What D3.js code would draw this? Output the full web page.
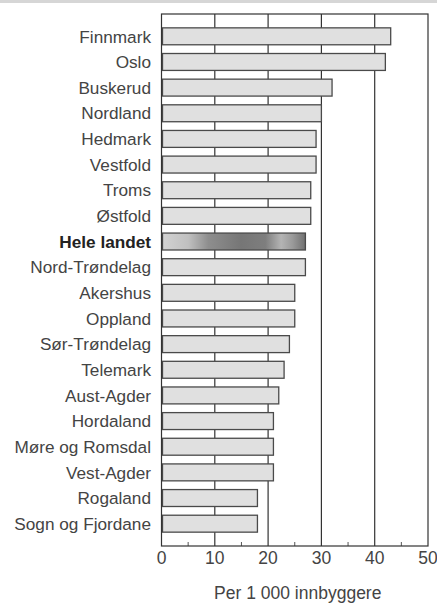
<!DOCTYPE html>
<html>
<head>
<meta charset="utf-8">
<script src="https://cdn.jsdelivr.net/npm/d3@7"></script>
<style>
  body { margin: 0; background: #fff; }
  text { font-family: "Liberation Sans", Arial, sans-serif; }
</style>
</head>
<body>
<div class="chart"></div>
<script>
// Fylker and values (per 1 000 innbyggere)
const counties = [
    "Finnmark", "Oslo", "Buskerud", "Nordland", "Hedmark", "Vestfold",
    "Troms", "Østfold", "Hele landet", "Nord-Trøndelag", "Akershus",
    "Oppland", "Sør-Trøndelag", "Telemark", "Aust-Agder", "Hordaland",
    "Møre og Romsdal", "Vest-Agder", "Rogaland", "Sogn og Fjordane"
]

const values = [43, 42, 32, 30, 29, 29, 28, 28, 27, 27, 25, 25, 24, 23, 22, 21, 21, 21, 18, 18]

const tickVals = [0, 10, 20, 30, 40, 50]
const minorTicks = [5, 15, 25, 35, 45]

const highlight = "Hele landet"

const width = 437
const height = 609

const svg = d3.select('.chart')
    .append('svg')
    .attr('width', width)
    .attr('height', height)

// scan border at the top
svg.append('rect')
    .attr('x', 0).attr('y', 0)
    .attr('width', width).attr('height', 3)
    .attr('fill', '#d6d6d6')

const x = d3.scaleLinear().domain([0, 50]).range([161.5, 428])
const y = d3.scaleBand()
    .domain(counties)
    .range([14, 546])
    .paddingInner(0.34)
    .paddingOuter(0.54)

// gradient for the national average bar
const defs = svg.append('defs')
const grad = defs.append('linearGradient').attr('id', 'hele')
const stops = [
    [0, '#d2d2d2'], [0.18, '#c0c0c0'], [0.32, '#8e8e8e'], [0.55, '#767676'],
    [0.72, '#7e7e7e'], [0.83, '#b4b4b4'], [0.91, '#9a9a9a'], [1, '#707070']
]
grad.selectAll('stop')
    .data(stops)
    .enter()
    .append('stop')
    .attr('offset', d => d[0])
    .attr('stop-color', d => d[1])

// grid lines
svg.append('g')
    .selectAll('line')
    .data(tickVals.slice(1, -1))
    .enter()
    .append('line')
    .attr('x1', d => x(d)).attr('x2', d => x(d))
    .attr('y1', 14).attr('y2', 546)
    .attr('stroke', '#333')
    .attr('stroke-width', 1.2)

// minor ticks at bottom
svg.append('g')
    .selectAll('line')
    .data(minorTicks)
    .enter()
    .append('line')
    .attr('x1', d => x(d)).attr('x2', d => x(d))
    .attr('y1', 542).attr('y2', 546)
    .attr('stroke', '#555')
    .attr('stroke-width', 1)

// bars
const data = counties.map((c, i) => ({ name: c, value: values[i] }))

svg.append('g')
    .selectAll('rect')
    .data(data)
    .enter()
    .append('rect')
    .attr('x', x(0) + 1)
    .attr('y', d => y(d.name))
    .attr('width', d => x(d.value) - x(0) - 1)
    .attr('height', y.bandwidth())
    .attr('fill', d => d.name == highlight ? 'url(#hele)' : '#e0e0e0')
    .attr('stroke', '#4a4a4a')
    .attr('stroke-width', 1.3)

// frame
svg.append('rect')
    .attr('x', x(0)).attr('y', 14)
    .attr('width', x(50) - x(0)).attr('height', 532)
    .attr('fill', 'none')
    .attr('stroke', '#333')
    .attr('stroke-width', 1.2)

// category labels
svg.append('g')
    .selectAll('text')
    .data(data)
    .enter()
    .append('text')
    .attr('x', 151)
    .attr('y', d => y(d.name) + y.bandwidth() / 2)
    .attr('dy', '0.36em')
    .attr('text-anchor', 'end')
    .attr('font-size', '17.2px')
    .attr('font-weight', d => d.name == highlight ? 'bold' : 'normal')
    .attr('fill', d => d.name == highlight ? '#222' : '#444')
    .text(d => d.name)

// x tick labels
svg.append('g')
    .selectAll('text')
    .data(tickVals)
    .enter()
    .append('text')
    .attr('x', d => x(d))
    .attr('y', 564)
    .attr('text-anchor', 'middle')
    .attr('font-size', '17.5px')
    .attr('fill', '#444')
    .text(d => d)

svg.append('text')
    .attr('x', (x(0) + x(50)) / 2 + 3)
    .attr('y', 599)
    .attr('text-anchor', 'middle')
    .attr('font-size', '17.5px')
    .attr('fill', '#444')
    .text('Per 1 000 innbyggere')
</script>
</body>
</html>
